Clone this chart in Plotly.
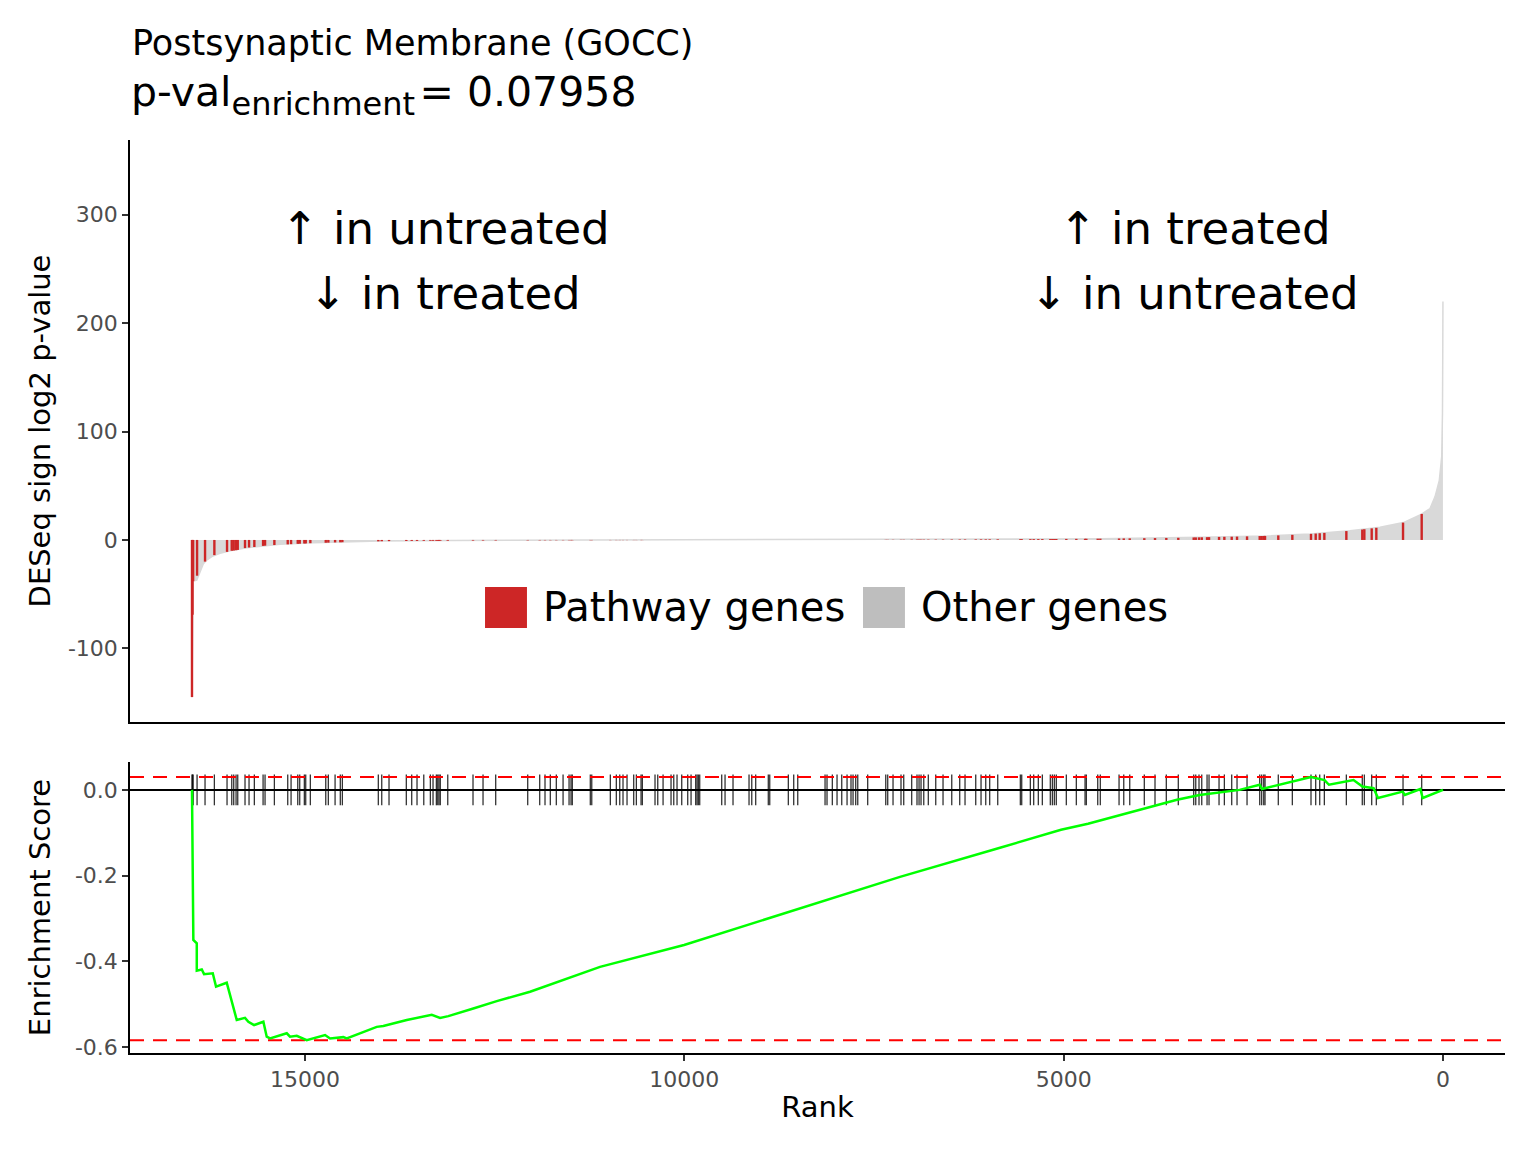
import plotly.graph_objects as go

FONT = "DejaVu Sans"

# ---- data ----
# ranked statistic envelope (all genes)
gene_rank = [16489, 16482, 16474, 16426, 16383, 16339, 16295, 16212, 16119, 15987,
             15767, 15552, 15328, 14893, 14449, 14010, 13088, 11770, 9793, 8211,
             7157, 5839, 4521, 3203, 2324, 1753, 1226, 830, 523, 303,
             171, 105, 49, 17, 7, 3, 1]
gene_stat = [-145, -69, -38, -37, -30, -22, -18.5, -14.8, -12.3, -9.9,
             -7.1, -5.5, -4.0, -2.5, -1.5, -0.9, -0.5, -0.25, -0.05, 0,
             0.2, 0.6, 1.2, 2.5, 3.7, 5.5, 8.6, 11.7, 16, 23,
             29, 40, 55, 77, 117, 178, 220]

# pathway genes: rank and statistic
path_rank = [16489, 16482, 16474, 16422, 16317, 16194, 16027, 15965, 15939, 15908,
             15886, 15790, 15737, 15667, 15552, 15526, 15403, 15227, 15183, 15095,
             15069, 15008, 14990, 14929, 14726, 14692, 14603, 14534, 14507, 14033,
             13988, 13892, 13664, 13593, 13523, 13434, 13347, 13312, 13268, 13250,
             13233, 13216, 13118, 12785, 12653, 12486, 12064, 11906, 11836, 11766,
             11687, 11598, 11519, 11493, 11476, 11239, 11220, 10975, 10896, 10851,
             10808, 10755, 10667, 10632, 10570, 10553, 10386, 10350, 10280, 10175,
             10139, 10096, 10034, 9955, 9911, 9850, 9832, 9815, 9797, 9507,
             9463, 9358, 9147, 9111, 9059, 8893, 8874, 8629, 8558, 8505,
             8145, 8119, 8049, 7987, 7925, 7855, 7803, 7776, 7741, 7714,
             7583, 7345, 7319, 7249, 7144, 7108, 7003, 6933, 6906, 6880,
             6844, 6784, 6686, 6590, 6475, 6370, 6300, 6159, 6089, 6027,
             5975, 5869, 5571, 5553, 5439, 5395, 5334, 5281, 5176, 5149,
             5123, 5097, 4965, 4833, 4718, 4701, 4551, 4517, 4270, 4208,
             4129, 3937, 3796, 3647, 3489, 3286, 3259, 3216, 3180, 3110,
             3084, 2952, 2882, 2785, 2715, 2583, 2416, 2390, 2363, 2346,
             2171, 1986, 1740, 1678, 1625, 1564, 1274, 1064, 1037, 940,
             879, 527, 281]
path_stat = [-145, -69, -38, -33, -20, -14, -11, -10, -9.8, -9.5,
             -9.2, -7.5, -7, -6.5, -5.5, -5.3, -4.7, -4.1, -3.9, -3.6,
             -3.5, -3.3, -3.2, -3.0, -2.6, -2.5, -2.3, -2.2, -2.1, -1.3,
             -1.2, -1.1, -1.0, -0.9, -0.9, -0.8, -0.8, -0.8, -0.75, -0.75,
             -0.75, -0.7, -0.7, -0.6, -0.55, -0.5, -0.4, -0.35, -0.33, -0.3,
             -0.3, -0.28, -0.27, -0.26, -0.26, -0.22, -0.22, -0.19, -0.18, -0.17,
             -0.17, -0.16, -0.15, -0.15, -0.14, -0.14, -0.12, -0.12, -0.11, -0.1,
             -0.1, -0.09, -0.09, -0.08, -0.07, -0.07, -0.06, -0.06, -0.06, -0.04,
             -0.04, -0.03, -0.02, -0.02, -0.02, -0.01, -0.01, -0.005, -0.003, -0.002,
             0.002, 0.003, 0.01, 0.02, 0.03, 0.05, 0.06, 0.07, 0.08, 0.08,
             0.1, 0.15, 0.16, 0.18, 0.2, 0.21, 0.24, 0.26, 0.27, 0.28,
             0.29, 0.31, 0.34, 0.37, 0.41, 0.44, 0.47, 0.51, 0.54, 0.56,
             0.58, 0.6, 0.7, 0.71, 0.75, 0.77, 0.8, 0.82, 0.86, 0.88,
             0.89, 0.9, 0.96, 1.02, 1.08, 1.09, 1.18, 1.2, 1.36, 1.4,
             1.46, 1.6, 1.72, 1.85, 2.0, 2.3, 2.35, 2.4, 2.45, 2.55,
             2.6, 2.8, 2.9, 3.0, 3.1, 3.3, 3.6, 3.65, 3.7, 3.75,
             4.2, 4.7, 5.6, 5.9, 6.2, 6.5, 8.2, 9.6, 9.9, 10.7,
             11.2, 16, 24]

# running enrichment score
es_rank = [16489, 16482, 16471, 16426, 16426, 16360, 16330, 16215, 16172, 16031,
           15997, 15899, 15790, 15746, 15671, 15548, 15504, 15460, 15240, 15197,
           15108, 14977, 14735, 14669, 14494, 14449, 14054, 13967, 13658, 13329,
           13219, 13110, 12781, 12472, 12033, 11111, 10003, 8738, 7157, 5839,
           5035, 4679, 4092, 3506, 3209, 2785, 2681, 2416, 2386, 1740,
           1562, 1503, 1180, 1062, 915, 857, 532, 503, 298, 268, 0]
es_val = [0, -0.245, -0.350, -0.358, -0.422, -0.419, -0.430, -0.428, -0.459, -0.450,
          -0.471, -0.537, -0.532, -0.541, -0.549, -0.541, -0.576, -0.580, -0.568, -0.576,
          -0.574, -0.584, -0.572, -0.580, -0.577, -0.580, -0.553, -0.551, -0.537, -0.525,
          -0.532, -0.528, -0.510, -0.493, -0.471, -0.413, -0.362, -0.292, -0.203, -0.135,
          -0.093, -0.079, -0.051, -0.023, -0.012, -0.002, 0.0, 0.012, 0.002, 0.030,
          0.023, 0.012, 0.023, 0.008, 0.004, -0.019, -0.004, -0.012, 0.002, -0.019, 0]

x_ticks = [0, 5000, 10000, 15000]
x_ticktext = ["0", "5000", "10000", "15000"]
y1_ticks = [-100, 0, 100, 200, 300]
y1_ticktext = ["-100", "0", "100", "200", "300"]
y2_ticks = [-0.6, -0.4, -0.2, 0.0]
y2_ticktext = ["-0.6", "-0.4", "-0.2", "0.0"]

title_main = "Postsynaptic Membrane (GOCC)"
title_sub = ("p-val<sub><span style='font-size:32px'>enrichment</span></sub>"
             "<span style='font-size:14px'> </span>= 0.07958")

X_RANGE = [17306, -817]
RUG_HALF = 0.036

fig = go.Figure()

# top panel: all genes (grey area)
fig.add_trace(go.Scatter(x=gene_rank, y=gene_stat, mode="lines", fill="tozeroy",
                         line=dict(color="#D9D9D9", width=1.5), fillcolor="#D9D9D9",
                         xaxis="x", yaxis="y", showlegend=False, hoverinfo="skip"))
# pathway genes as thin bars (segments from 0)
bx, by = [], []
for r, v in zip(path_rank, path_stat):
    bx += [r, r, None]
    by += [0, v, None]
fig.add_trace(go.Scatter(x=bx, y=by, mode="lines",
                         line=dict(color="#CD2626", width=2.4),
                         xaxis="x", yaxis="y", showlegend=False, hoverinfo="skip"))

# bottom panel: rug
rx, ry = [], []
for r in path_rank:
    rx += [r, r, None]
    ry += [-RUG_HALF, RUG_HALF, None]
fig.add_trace(go.Scatter(x=rx, y=ry, mode="lines",
                         line=dict(color="rgba(0,0,0,0.8)", width=1.3),
                         xaxis="x2", yaxis="y2", showlegend=False, hoverinfo="skip"))
# zero line
fig.add_trace(go.Scatter(x=X_RANGE, y=[0, 0], mode="lines",
                         line=dict(color="black", width=2),
                         xaxis="x2", yaxis="y2", showlegend=False, hoverinfo="skip"))
# max / min dashed
for v in [max(es_val), min(es_val)]:
    fig.add_trace(go.Scatter(x=X_RANGE, y=[v, v], mode="lines",
                             line=dict(color="#FF0000", width=2, dash="14px,9px"),
                             xaxis="x2", yaxis="y2", showlegend=False, hoverinfo="skip"))
fig.add_trace(go.Scatter(x=es_rank, y=es_val, mode="lines",
                         line=dict(color="#00FF00", width=2.5),
                         xaxis="x2", yaxis="y2", showlegend=False))

tickfont = dict(family=FONT, size=22, color="#4D4D4D")
titlefont = dict(family=FONT, size=29, color="black")

fig.update_layout(
    width=1536, height=1152,
    margin=dict(l=122, r=39, t=132, b=107, autoexpand=False),
    paper_bgcolor="white", plot_bgcolor="white",
    font=dict(family=FONT, color="black"),
    xaxis=dict(domain=[0, 1], anchor="y", range=X_RANGE, showticklabels=False,
               ticks="", showline=True, linecolor="black", linewidth=1.5,
               showgrid=False, zeroline=False),
    yaxis=dict(domain=[0.3625, 1], anchor="x", range=[-168, 369],
               tickvals=y1_ticks, ticktext=y1_ticktext,
               ticks="outside", ticklen=6, tickcolor="#333333", tickwidth=1.5,
               tickfont=tickfont, showline=True, linecolor="black", linewidth=1.5,
               showgrid=False, zeroline=False,
               title=dict(text="DESeq sign log2 p-value", font=titlefont, standoff=9)),
    xaxis2=dict(domain=[0, 1], anchor="y2", range=X_RANGE,
                tickvals=x_ticks, ticktext=x_ticktext,
                ticks="outside", ticklen=6, tickcolor="#333333", tickwidth=1.5,
                tickfont=tickfont, showline=True, linecolor="black", linewidth=1.5,
                showgrid=False, zeroline=False,
                title=dict(text="Rank", font=titlefont, standoff=6)),
    yaxis2=dict(domain=[0, 0.3187], anchor="x2", range=[-0.614, 0.065],
                tickvals=y2_ticks, ticktext=y2_ticktext,
                ticks="outside", ticklen=6, tickcolor="#333333", tickwidth=1.5,
                tickfont=tickfont, showline=True, linecolor="black", linewidth=1.5,
                showgrid=False, zeroline=False,
                title=dict(text="Enrichment Score", font=titlefont, standoff=16)),
)

ann = []
ann.append(dict(text=title_main, x=0.0, y=1.1062, xref="paper", yref="paper",
                xanchor="left", yanchor="middle", showarrow=False,
                font=dict(family=FONT, size=35, color="black")))
ann.append(dict(text=title_sub, x=-0.001, y=1.049, xref="paper", yref="paper",
                xanchor="left", yanchor="middle", showarrow=False,
                font=dict(family=FONT, size=41, color="black")))
for txt, x, y in [("↑ in untreated", 0.2291, 0.9036), ("↓ in treated", 0.2291, 0.8324),
                  ("↑ in treated", 0.7745, 0.9036), ("↓ in untreated", 0.7745, 0.8324)]:
    ann.append(dict(text=txt, x=x, y=y, xref="paper", yref="paper",
                    xanchor="center", yanchor="middle", showarrow=False,
                    font=dict(family=FONT, size=45, color="black")))
# manual legend
legend_items = [("Pathway genes", "#CD2626", 0.2582), ("Other genes", "#BEBEBE", 0.5331)]
shapes = []
for name, col, x0 in legend_items:
    shapes.append(dict(type="rect", xref="paper", yref="paper", x0=x0, x1=x0 + 0.0305,
                       y0=0.4655, y1=0.5104, fillcolor=col, line=dict(width=0)))
    ann.append(dict(text=name, x=x0 + 0.0405, y=0.4885, xref="paper", yref="paper",
                    xanchor="left", yanchor="middle", showarrow=False,
                    font=dict(family=FONT, size=40, color="black")))
fig.update_layout(annotations=ann, shapes=shapes)

fig.write_html("out.html")
